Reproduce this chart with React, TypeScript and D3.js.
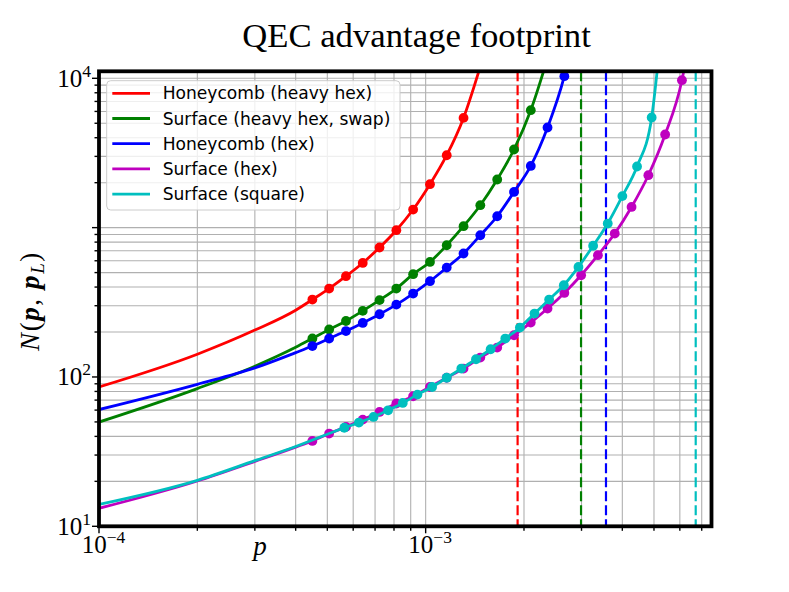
import React from 'react';
import * as d3 from 'd3';

const W = 789;
const H = 592;
const AX = { left: 99, right: 711.5, top: 71.3, bottom: 526.3 };

const titleText = 'QEC advantage footprint';
const seriesNames = [
  'Honeycomb (heavy hex)',
  'Surface (heavy hex, swap)',
  'Honeycomb (hex)',
  'Surface (hex)',
  'Surface (square)',
];
const seriesColors = ['#ff0000', '#008000', '#0000ff', '#bf00bf', '#00bfbf'];

const xDomain = [1e-4, 7.5e-3];
const yDomain = [10, 1.114e4];
const xMajorTicks = [1e-4, 1e-3];
const xTickExps = ['\u22124', '\u22123'];
const yMajorTicks = [10, 100, 1000, 10000];
const yTickExps = ['1', '2', '', '4'];

// p values of the markers (shared by four series)
const pGrid = [
  4.5e-4, 5.065e-4, 5.702e-4, 6.418e-4, 7.224e-4, 8.133e-4, 9.155e-4, 1.031e-3,
  1.16e-3, 1.306e-3, 1.47e-3, 1.656e-3, 1.864e-3, 2.098e-3, 2.361e-3, 2.658e-3,
  2.992e-3, 3.368e-3, 3.792e-3, 4.269e-3, 4.805e-3, 5.409e-3, 6.089e-3,
];
// p values of the square-surface markers
const cyanP = [
  5.636e-4, 6.247e-4, 6.925e-4, 7.676e-4, 8.51e-4, 9.436e-4, 1.0465e-3, 1.16e-3,
  1.286e-3, 1.426e-3, 1.581e-3, 1.753e-3, 1.943e-3, 2.154e-3, 2.388e-3, 2.648e-3,
  2.936e-3, 3.256e-3, 3.609e-3, 4.001e-3, 4.437e-3, 4.919e-3,
];

const redN = [330, 391, 473, 580, 736, 961, 1322, 1953, 3054, 5430];
const greenN = [181, 208, 237, 277, 327, 391, 488, 589, 762, 1022, 1413, 2100, 3336, 6114];
const blueN = [161, 181, 203, 230, 263, 305, 362, 438, 540, 671, 889, 1192, 1734, 2590, 4682, 10330];
const magentaN = [
  37.3, 41.8, 46.3, 51.8, 58.3, 66.4, 74.3, 85.7, 98.8, 113.8, 134.9, 157.4, 190.2,
  231.4, 287.2, 365.3, 479.9, 653.5, 913, 1376, 2244, 4204, 9712,
];
const cyanN = [
  45.7, 49.5, 54.0, 59.8, 67.0, 76.2, 85.7, 98.8, 113.8, 131.4, 153.3, 180.8, 214.2,
  265.9, 330.0, 411.4, 545.5, 756.4, 1065, 1626, 2566, 5463,
];

// continuous curve below the first marker
const leftP = [1e-4, 2e-4, 3e-4, 4e-4];
const redLeftN = [85.7, 142, 206, 280];
const greenLeftN = [49.9, 83.6, 118, 158];
const blueLeftN = [60.5, 89.3, 115, 145.5];
const magentaLeftN = [13.2, 20.1, 27.2, 33.9];
const cyanLeftN = [14.0, 20.3, 27.5, 34.2];

// curve beyond the last marker (runs out of the top)
const tailP = [1.47e-3, 2.361e-3, 2.75e-3, 6.25e-3, 5.15e-3];
const tailN = [12000, 13600, 14000, 13000, 13000];

// thresholds (dashed verticals); Surface (hex) lies off the axes
const thresholds = [1.912e-3, 2.99e-3, 3.565e-3, null, 6.71e-3];

const markerP = [pGrid, pGrid, pGrid, pGrid, cyanP];
const markerN = [redN, greenN, blueN, magentaN, cyanN];
const leftN = [redLeftN, greenLeftN, blueLeftN, magentaLeftN, cyanLeftN];

const SERIF = "'Liberation Serif', 'Times New Roman', 'DejaVu Serif', serif";
const SANS = "'DejaVu Sans', Verdana, sans-serif";

export default function App() {
  const x = d3.scaleLog().domain(xDomain).range([AX.left, AX.right]);
  const y = d3.scaleLog().domain(yDomain).range([AX.bottom, AX.top]);

  const xMinor: number[] = [];
  [1e-4, 1e-3].forEach((dec) => {
    for (let m = 2; m <= 9; m++) {
      const v = m * dec;
      if (v < xDomain[1]) xMinor.push(v);
    }
  });
  const yMinor: number[] = [];
  [10, 100, 1000].forEach((dec) => {
    for (let m = 2; m <= 9; m++) yMinor.push(m * dec);
  });

  const line = d3
    .line<[number, number]>()
    .x((d) => x(d[0]))
    .y((d) => y(d[1]))
    .curve(d3.curveMonotoneX);

  const series = seriesNames.map((name, i) => {
    const mp = markerP[i].slice(0, markerN[i].length);
    const pts: [number, number][] = [];
    leftP.forEach((p, j) => pts.push([p, leftN[i][j]]));
    mp.forEach((p, j) => pts.push([p, markerN[i][j]]));
    pts.push([tailP[i], tailN[i]]);
    const marks = mp.map((p, j) => [p, markerN[i][j]] as [number, number]);
    return { name, color: seriesColors[i], pts, marks, th: thresholds[i] };
  });

  const legendRows = [93.3, 118.5, 143.7, 168.9, 194.1];

  return (
    <svg
      width={W}
      height={H}
      style={{ position: 'absolute', left: 0, top: 0, background: '#fff' }}
      xmlns="http://www.w3.org/2000/svg"
    >
      <rect x={0} y={0} width={W} height={H} fill="#fff" />
      <defs>
        <clipPath id="plotclip">
          <rect x={AX.left} y={AX.top} width={AX.right - AX.left} height={AX.bottom - AX.top} />
        </clipPath>
      </defs>

      {/* grid */}
      <g stroke="#b0b0b0" strokeWidth={1.1}>
        {[...xMajorTicks, ...xMinor].map((v, i) => (
          <line key={'gx' + i} x1={x(v)} x2={x(v)} y1={AX.top} y2={AX.bottom} />
        ))}
        {[...yMajorTicks, ...yMinor].map((v, i) => (
          <line key={'gy' + i} x1={AX.left} x2={AX.right} y1={y(v)} y2={y(v)} />
        ))}
      </g>

      {/* series */}
      <g clipPath="url(#plotclip)">
        {series.map((s, i) => (
          <g key={'s' + i}>
            <path d={line(s.pts) || ''} fill="none" stroke={s.color} strokeWidth={2.8} strokeLinejoin="round" />
            {s.marks.map((d, j) => (
              <circle key={j} cx={x(d[0])} cy={y(d[1])} r={4.9} fill={s.color} />
            ))}
            {s.th !== null && (
              <line
                x1={x(s.th)}
                x2={x(s.th)}
                y1={AX.top}
                y2={AX.bottom}
                stroke={s.color}
                strokeWidth={2.2}
                strokeDasharray="10,4"
              />
            )}
          </g>
        ))}
      </g>

      {/* ticks */}
      <g stroke="#000" strokeWidth={1.4}>
        {xMajorTicks.map((v, i) => (
          <line key={'tx' + i} x1={x(v)} x2={x(v)} y1={AX.bottom} y2={AX.bottom + 7} />
        ))}
        {xMinor.map((v, i) => (
          <line key={'tmx' + i} x1={x(v)} x2={x(v)} y1={AX.bottom} y2={AX.bottom + 4.5} />
        ))}
        {yMajorTicks.map((v, i) => (
          <line key={'ty' + i} x1={AX.left} x2={AX.left - 7} y1={y(v)} y2={y(v)} />
        ))}
        {yMinor.map((v, i) => (
          <line key={'tmy' + i} x1={AX.left} x2={AX.left - 4.5} y1={y(v)} y2={y(v)} />
        ))}
      </g>

      {/* spines */}
      <rect
        x={AX.left}
        y={AX.top}
        width={AX.right - AX.left}
        height={AX.bottom - AX.top}
        fill="none"
        stroke="#000"
        strokeWidth={3.8}
      />

      {/* tick labels */}
      <g fontFamily={SERIF} fill="#000">
        {xMajorTicks.map((v, i) => (
          <text key={'lx' + i} x={x(v) + 4.5} y={553} textAnchor="middle" fontSize={25}>
            10
            <tspan dy={-10} fontSize={17.5}>
              {xTickExps[i]}
            </tspan>
          </text>
        ))}
        {yMajorTicks.map((v, i) =>
          yTickExps[i] ? (
            <text key={'ly' + i} x={91} y={y(v) + 8.5} textAnchor="end" fontSize={25}>
              10
              <tspan dy={-10} fontSize={17.5}>
                {yTickExps[i]}
              </tspan>
            </text>
          ) : null
        )}
      </g>

      {/* axis labels */}
      <text x={260} y={555} textAnchor="middle" fontFamily={SERIF} fontStyle="italic" fontSize={27}>
        p
      </text>
      <text
        transform="translate(39,301) rotate(-90)"
        textAnchor="middle"
        fontFamily={SERIF}
        fontSize={27}
        letterSpacing={1.6}
      >
        <tspan fontStyle="italic">N</tspan>
        <tspan>(</tspan>
        <tspan fontStyle="italic" fontWeight="bold">p</tspan>
        <tspan>, </tspan>
        <tspan fontStyle="italic" fontWeight="bold">p</tspan>
        <tspan fontStyle="italic" fontSize={19} dy={5}>L</tspan>
        <tspan dy={-5}>)</tspan>
      </text>

      {/* title */}
      <text x={416.5} y={47} textAnchor="middle" fontFamily={SERIF} fontSize={34.7}>
        {titleText}
      </text>

      {/* legend */}
      <g>
        <rect
          x={106.7}
          y={80.7}
          width={293.3}
          height={129.3}
          rx={4}
          fill="#fff"
          fillOpacity={0.8}
          stroke="#cccccc"
          strokeWidth={1}
        />
        {series.map((s, i) => (
          <g key={'lg' + i}>
            <line x1={112.3} x2={150} y1={legendRows[i]} y2={legendRows[i]} stroke={s.color} strokeWidth={2.8} />
            <text x={162.7} y={legendRows[i] + 6} fontFamily={SANS} fontSize={17.1} fill="#000">
              {s.name}
            </text>
          </g>
        ))}
      </g>
    </svg>
  );
}
